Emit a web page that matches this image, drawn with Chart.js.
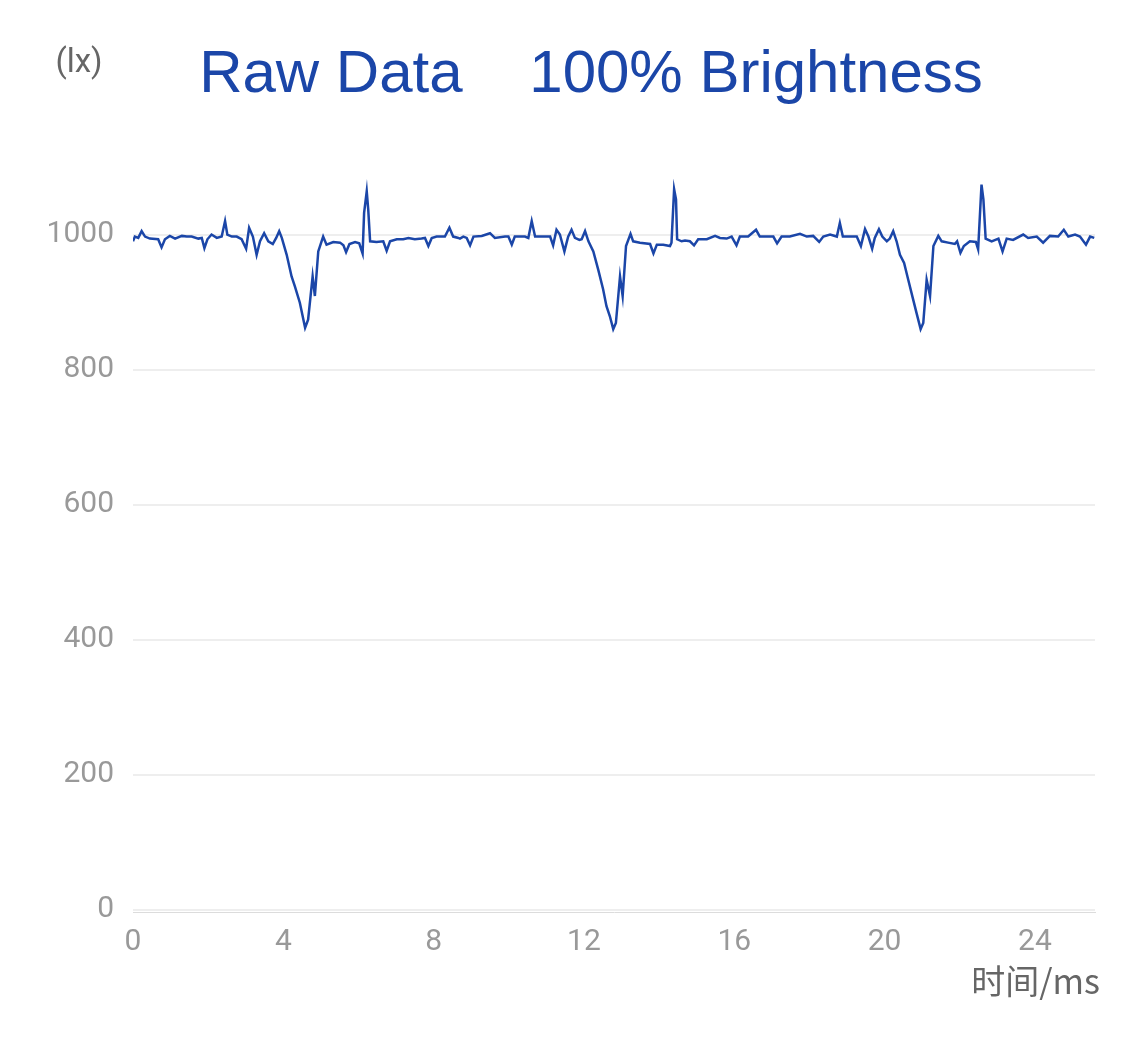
<!DOCTYPE html>
<html>
<head>
<meta charset="utf-8">
<script src="https://cdn.jsdelivr.net/npm/chart.js@4.4.1/dist/chart.umd.min.js"></script>
<style>
    body { margin: 0; background: #fff; }
    canvas { display: block; }
</style>
</head>
<body>
<canvas id="rawChart" width="1125" height="1040"></canvas>
<script>
// illuminance trace (time in ms, value in lx)
const timeMs = [
    0.00, 0.05, 0.14, 0.23, 0.32, 0.45, 0.67, 0.76, 0.85, 0.98, 1.12, 1.30, 1.43, 1.56, 1.74, 1.83,
    1.90, 1.98, 2.09, 2.23, 2.36, 2.45, 2.51, 2.63, 2.76, 2.89, 3.01, 3.09, 3.19, 3.29, 3.38, 3.49,
    3.60, 3.72, 3.81, 3.89, 3.96, 4.09, 4.22, 4.31, 4.44, 4.58, 4.66, 4.78, 4.84, 4.93, 5.06, 5.15,
    5.33, 5.51, 5.60, 5.67, 5.76, 5.91, 6.02, 6.11, 6.15, 6.22, 6.26, 6.31, 6.48, 6.66, 6.75, 6.84,
    7.02, 7.19, 7.33, 7.50, 7.68, 7.77, 7.86, 7.95, 8.08, 8.30, 8.42, 8.52, 8.66,
    8.70, 8.79, 8.88, 8.97, 9.06, 9.28, 9.50, 9.63, 9.90, 9.99, 10.08, 10.16, 10.43, 10.52, 10.61, 10.70,
    10.83, 11.01, 11.10, 11.18, 11.27, 11.36, 11.48, 11.58, 11.67, 11.76, 11.88, 11.94, 12.03, 12.12, 12.25, 12.38,
    12.51, 12.60, 12.69, 12.78, 12.85, 12.96, 13.03, 13.12, 13.24, 13.31, 13.49, 13.76, 13.85, 13.94, 14.11, 14.29,
    14.33, 14.40, 14.45, 14.48, 14.60, 14.69, 14.82, 14.93, 15.04, 15.27, 15.49, 15.62, 15.80, 15.93, 16.06, 16.15,
    16.37, 16.58, 16.68,
    16.91, 17.04, 17.14, 17.26, 17.48, 17.75, 17.93, 18.10, 18.26, 18.37, 18.55, 18.73, 18.81, 18.89, 19.08, 19.26,
    19.37, 19.48, 19.57, 19.67, 19.74, 19.85, 19.94, 20.06, 20.14, 20.23, 20.32, 20.41, 20.52, 20.63, 20.76, 20.85,
    20.96, 21.03, 21.12, 21.21, 21.30, 21.43, 21.52, 21.69, 21.87, 21.93, 22.02, 22.11, 22.27, 22.43, 22.49, 22.58,
    22.63, 22.69, 22.85, 23.03, 23.14, 23.25, 23.42, 23.69, 23.82, 24.05, 24.22, 24.40, 24.62, 24.77, 24.89, 25.07,
    25.20, 25.36, 25.47, 25.58
];
const lux = [
    990, 997, 995, 1005, 997, 994, 993, 981, 993, 998, 994, 998, 997, 997, 994, 995,
    980, 993, 1000, 995, 997, 1020, 1000, 997, 997, 993, 979, 1010, 997, 970, 990, 1002,
    990, 986, 995, 1005, 995, 970, 938, 923, 899, 862, 874, 938, 909, 975, 997, 985,
    989, 988, 984, 974, 986, 989, 987, 972, 1032, 1064, 1037, 990, 989, 990, 976, 990,
    993, 993, 995, 993, 994, 995, 983, 995, 997, 997, 1010, 997, 995,
    994, 997, 995, 984, 997, 998, 1002, 995, 997, 997, 985, 997, 997, 995, 1020, 997,
    997, 997, 997, 984, 1007, 1000, 975, 997, 1007, 995, 992, 993, 1005, 990, 975, 948,
    919, 894, 879, 860, 869, 938, 909, 983, 1001, 990, 988, 986, 972, 985, 985, 983,
    988, 1067, 1052, 993, 990, 991, 990, 984, 993, 993, 998, 995, 994, 997, 984, 997,
    997, 1007, 997,
    997, 997, 987, 997, 997, 1001, 997, 998, 989, 997, 1000, 997, 1017, 997, 997, 997,
    983, 1008, 997, 979, 995, 1008, 997, 990, 994, 1005, 990, 970, 958, 933, 904, 884,
    860, 869, 933, 909, 983, 998, 990, 988, 986, 990, 973, 983, 990, 989, 978, 1074,
    1052, 994, 990, 994, 975, 994, 992, 1000, 995, 997, 988, 998, 997, 1007, 997, 1000,
    997, 985, 997, 995
];
const xTicks = [0, 4, 8, 12, 16, 20, 24];
const yTicks = [0, 200, 400, 600, 800, 1000];

const titleText = 'Raw Data    100% Brightness';
const lineColor = '#1b46a8';

// title and unit captions drawn around the plot
const captions = {
    id: 'captions',
    afterDraw(chart) {
        const ctx = chart.ctx;
        ctx.save();
        ctx.textBaseline = 'middle';

        ctx.fillStyle = lineColor;
        ctx.font = '60px "Liberation Sans", Arial';
        ctx.textAlign = 'center';
        ctx.fillText(titleText, 591, 75);

        ctx.fillStyle = '#666';
        ctx.font = '33px Roboto';
        ctx.fillText('(lx)', 79, 64);

        ctx.font = '34px "Noto Sans CJK SC"';
        ctx.textAlign = 'right';
        ctx.fillText('时间/ms', 1100, 981);
        ctx.restore();
    }
};

new Chart(document.getElementById('rawChart'), {
    type: 'line',
    data: {
        datasets: [{
            label: titleText,
            data: timeMs.map((t, i) => ({ x: t, y: lux[i] })),
            borderColor: lineColor,
            borderWidth: 2.5,
            pointRadius: 0,
            tension: 0,
            fill: false
        }]
    },
    options: {
        responsive: false,
        animation: false,
        devicePixelRatio: 1,
        layout: {
            padding: { left: 0, right: 30, top: 167, bottom: 0 }
        },
        scales: {
            x: {
                type: 'linear',
                min: 0,
                max: 25.6,
                afterBuildTicks: axis => { axis.ticks = xTicks.map(v => ({ value: v })); },
                afterFit: scale => { scale.height = 128; },
                grid: { display: false, drawTicks: false },
                border: { display: true, color: '#dcdcdc', width: 1 },
                ticks: {
                    color: '#999',
                    font: { family: 'Roboto', size: 30 },
                    padding: 12,
                    maxRotation: 0,
                    callback: v => String(v)
                }
            },
            y: {
                min: -3,
                max: 1100,
                afterBuildTicks: axis => { axis.ticks = yTicks.map(v => ({ value: v })); },
                afterFit: scale => { scale.width = 133; },
                grid: { color: '#eeeeee', lineWidth: 2, drawTicks: false },
                border: { display: false },
                ticks: {
                    color: '#999',
                    font: { family: 'Roboto', size: 30 },
                    padding: 19,
                    callback: v => String(v)
                }
            }
        },
        plugins: {
            legend: { display: false },
            tooltip: { enabled: false },
            title: { display: false }
        }
    },
    plugins: [captions]
});
</script>
</body>
</html>
